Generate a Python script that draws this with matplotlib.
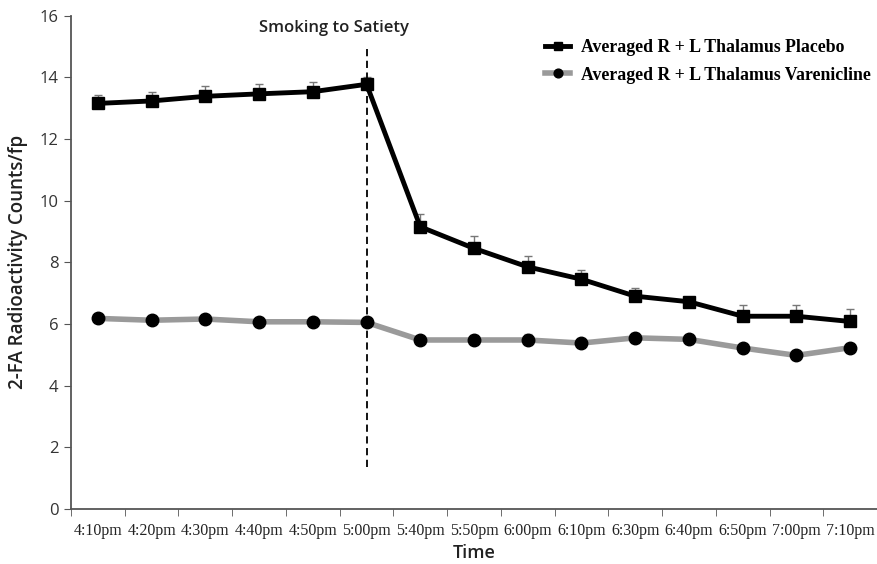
import numpy as np
import matplotlib
matplotlib.use("Agg")
import matplotlib.pyplot as plt

# Data
times = ["4:10pm", "4:20pm", "4:30pm", "4:40pm", "4:50pm", "5:00pm", "5:40pm", "5:50pm",
         "6:00pm", "6:10pm", "6:30pm", "6:40pm", "6:50pm", "7:00pm", "7:10pm"]
placebo = [13.15, 13.23, 13.38, 13.46, 13.53, 13.77, 9.15, 8.45, 7.85, 7.45, 6.9, 6.72, 6.25, 6.25, 6.08]
placebo_err = [0.28, 0.28, 0.33, 0.33, 0.33, 0.25, 0.42, 0.4, 0.36, 0.3, 0.25, 0.12, 0.36, 0.38, 0.4]
varen = [6.18, 6.12, 6.16, 6.07, 6.07, 6.05, 5.48, 5.48, 5.48, 5.38, 5.55, 5.5, 5.22, 4.98, 5.23]
varen_err = [0.12, 0.1, 0.12, 0.1, 0.1, 0.1, 0.12, 0.15, 0.2, 0.12, 0.15, 0.12, 0.12, 0.15, 0.12]
satiety_idx = 5

x = np.arange(len(times))

fig = plt.figure(figsize=(8.77, 5.64), dpi=100)
ax = fig.add_axes([0.081, 0.0975, 0.919, 0.875])

# error bars (upper only, thin grey)
ax.errorbar(x, placebo, yerr=[np.zeros(len(x)), placebo_err], fmt="none",
            ecolor="#777777", elinewidth=1, capsize=3, capthick=1, zorder=2)
ax.errorbar(x, varen, yerr=[np.zeros(len(x)), varen_err], fmt="none",
            ecolor="#aaaaaa", elinewidth=1, capsize=3, capthick=1, zorder=2)

ax.plot(x, placebo, color="black", lw=3.5, marker="s", markersize=9,
        label="Averaged R + L Thalamus Placebo", zorder=4)
ax.plot(x, varen, color="#9a9a9a", lw=4, marker="o", markersize=9,
        markerfacecolor="black", markeredgecolor="black",
        label="Averaged R + L Thalamus Varenicline", zorder=3)

# smoking to satiety marker
ax.plot([satiety_idx, satiety_idx], [1.35, 14.9], color="black", lw=1.3,
        linestyle=(0, (4, 2.5)), zorder=5)
ax.text(satiety_idx - 0.6, 15.35, "Smoking to Satiety", ha="center", va="bottom",
        fontsize=12, family="Open Sans", fontweight="semibold", color="#222222")

ax.set_xlim(-0.5, len(times) - 0.5)
ax.set_ylim(0, 16)
ax.set_yticks(range(0, 17, 2))
ax.set_yticklabels([str(v) for v in range(0, 17, 2)], family="Open Sans", fontsize=12,
                   color="#333333")
ax.set_xticks(x)
ax.set_xticklabels(times, family="Liberation Serif", fontsize=11.5, color="#222222")
ax.set_xticks(np.arange(-0.5, len(times), 1), minor=True)
ax.tick_params(axis="x", which="major", length=0, pad=10)
ax.tick_params(axis="x", which="minor", length=5, color="#555555", direction="out")
ax.tick_params(axis="y", length=5, color="#555555", direction="out", pad=4)

for side in ["top", "right"]:
    ax.spines[side].set_visible(False)
for side in ["left", "bottom"]:
    ax.spines[side].set_color("#555555")
    ax.spines[side].set_linewidth(1.3)

ax.set_xlabel("Time", family="Open Sans", fontsize=13, fontweight="semibold",
              color="#222222", labelpad=4)
ax.set_ylabel("2-FA Radioactivity Counts/fp", family="Open Sans", fontsize=13.5,
              fontweight="semibold", color="#222222", labelpad=8)

ax.legend(loc="upper right", bbox_to_anchor=(1.012, 0.985), frameon=False,
          prop={"family": "Liberation Serif", "weight": "bold", "size": 12.8},
          handlelength=1.4, markerscale=0.7, labelspacing=0.6, handletextpad=0.6)

fig.savefig("out.png", dpi=100)
